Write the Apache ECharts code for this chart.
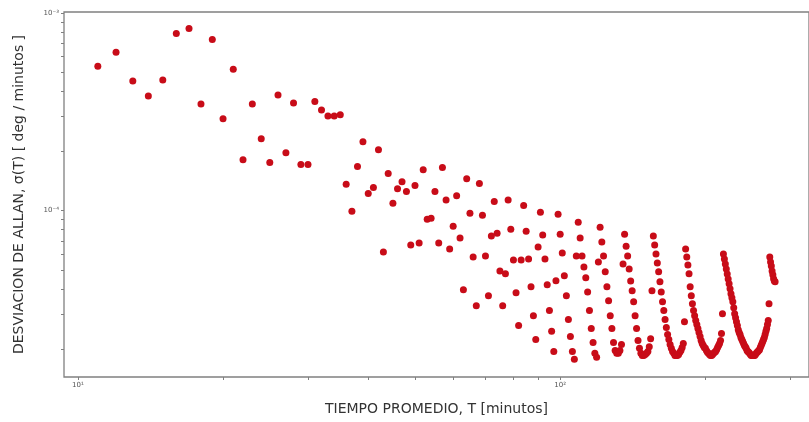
<!DOCTYPE html>
<html>
<head>
<meta charset="utf-8">
<script src="https://cdn.jsdelivr.net/npm/echarts@6/dist/echarts.min.js"></script>
<style>
html,body{margin:0;padding:0;background:#fff;}
#chart{width:809px;height:422px;}
</style>
</head>
<body>
<div id="chart"></div>
<script>
// Averaging time T [minutes]
const tau = [
 11,12,13,14,15,16,17,18,19,20,21,22,23,24,25,26,27,28,29,30,
 31,32,33,34,35,36,37,38,39,40,41,42,43,44,45,46,47,48,49,50,
 51,52,53,54,55,56,57,58,59,60,61,62,63,64,65,66,67,68,69,70,
 71,72,73,74,75,76,77,78,79,80,81,82,83,84,85,86,87,88,89,90,
 91,92,93,94,95,96,97,98,99,100,101,102,103,104,105,106,107,108,109,110,
 111,112,113,114,115,116,117,118,119,120,121,122,123,124,125,126,127,128,129,130,
 131,132,133,134,135,136,137,138,139,140,141,142,143,144,145,146,147,148,149,150,
 151,152,153,154,155,156,157,158,159,160,161,162,163,164,165,166,167,168,169,170,
 171,172,173,174,175,176,177,178,179,180,181,182,183,184,185,186,187,188,189,190,
 191,192,193,194,195,196,197,198,199,200,201,202,203,204,205,206,207,208,209,210,
 211,212,213,214,215,216,217,218,219,220,221,222,223,224,225,226,227,228,229,230,
 231,232,233,234,235,236,237,238,239,240,241,242,243,244,245,246,247,248,249,250,
 251,252,253,254,255,256,257,258,259,260,261,262,263,264,265,266,267,268,269,270,
 271,272,273,274,275,276,277,278,279
];
// Allan deviation, in units of 1e-5 deg/min
const sigmaE5 = [
 53.7,63.2,45.2,38.0,45.7,78.7,83.4,34.6,73.4,29.1,51.9,18.1,34.6,23.1,17.5,38.4,19.6,35.0,17.1,17.1,
 35.6,32.3,30.1,30.1,30.5,13.6,9.92,16.7,22.3,12.2,13.1,20.3,6.17,15.4,10.9,12.9,14.0,12.5,6.70,13.4,
 6.85,16.1,9.04,9.15,12.5,6.85,16.5,11.3,6.39,8.34,11.9,7.26,3.98,14.5,9.69,5.83,3.30,13.7,9.47,5.89,
 3.71,7.43,11.1,7.69,4.95,3.30,4.79,11.3,8.05,5.63,3.84,2.62,5.63,10.6,7.87,5.69,4.12,2.94,2.23,6.55,
 9.80,7.52,5.69,4.21,3.12,2.45,1.94,4.42,9.58,7.60,6.10,4.68,3.71,2.81,2.31,1.94,1.77,5.89,8.73,7.26,
 5.89,5.19,4.57,3.88,3.12,2.53,2.15,1.90,1.81,5.50,8.24,6.93,5.89,4.90,4.12,3.50,2.94,2.53,2.15,1.96,
 1.90,1.90,1.96,2.10,5.37,7.60,6.61,5.89,5.07,4.41,3.93,3.46,2.94,2.53,2.20,2.01,1.90,1.85,1.85,1.87,
 1.90,1.94,2.05,2.25,3.93,7.43,6.69,6.03,5.43,4.90,4.36,3.88,3.46,3.12,2.81,2.56,2.36,2.23,2.10,2.01,
 1.94,1.90,1.85,1.85,1.85,1.87,1.92,1.96,2.03,2.13,2.74,6.39,5.82,5.31,4.79,4.12,3.71,3.38,3.12,2.94,
 2.78,2.65,2.53,2.42,2.31,2.20,2.13,2.08,2.03,2.01,1.96,1.92,1.90,1.87,1.85,1.85,1.87,1.90,1.92,1.94,
 1.98,2.03,2.08,2.13,2.20,2.39,3.01,6.03,5.69,5.37,5.07,4.78,4.51,4.26,4.02,3.80,3.62,3.46,3.23,3.01,
 2.87,2.74,2.62,2.50,2.42,2.36,2.28,2.23,2.18,2.13,2.08,2.05,2.01,1.96,1.94,1.92,1.90,1.87,1.85,1.85,
 1.85,1.85,1.85,1.87,1.90,1.92,1.94,1.96,1.98,2.03,2.08,2.13,2.18,2.23,2.28,2.36,2.45,2.53,2.65,2.78,
 3.38,5.82,5.50,5.25,4.95,4.73,4.52,4.41,4.36
];
// Tick positions and labels
const xLabelValues = [10, 100];
const xTickValues = [10,20,30,40,50,60,70,80,90,100,200,300];
const yLabelValues = [1e-4, 1e-3];
const yTickValues = [2e-5,3e-5,4e-5,5e-5,6e-5,7e-5,8e-5,9e-5,1e-4,2e-4,3e-4,4e-4,5e-4,6e-4,7e-4,8e-4,9e-4,1e-3];

const sup = {'-':'\u207B','0':'\u2070','1':'\u00B9','2':'\u00B2','3':'\u00B3','4':'\u2074','5':'\u2075','6':'\u2076','7':'\u2077','8':'\u2078','9':'\u2079'};
function powLabel(v){
  const e = Math.round(Math.log10(v));
  if (Math.abs(Math.log10(v) - e) > 1e-6) return '';
  return '10' + String(e).split('').map(c => sup[c]).join('');
}

const data = tau.map((t, i) => [t, sigmaE5[i] * 1e-5]);

const chart = echarts.init(document.getElementById('chart'), null, {renderer: 'canvas'});
const axisColor = '#808080';
chart.setOption({
  animation: false,
  backgroundColor: '#ffffff',
  grid: {left: 64, right: -6, top: 12, bottom: 45, show: true, borderColor: axisColor, borderWidth: 1.3, backgroundColor: 'transparent'},
  xAxis: {
    type: 'log', logBase: 10, min: 9.36, max: 328,
    name: 'TIEMPO PROMEDIO, T [minutos]', nameLocation: 'middle', nameGap: 25,
    nameTextStyle: {fontFamily: 'DejaVu Sans', fontSize: 14, color: '#333'},
    axisLine: {show: false},
    splitLine: {show: false},
    axisTick: {show: true, length: 3, lineStyle: {color: axisColor}, customValues: xTickValues},
    axisLabel: {customValues: xLabelValues, formatter: powLabel, fontFamily: 'DejaVu Sans', fontSize: 7, color: '#555', margin: 5}
  },
  yAxis: {
    type: 'log', logBase: 10, min: 1.44e-5, max: 1.01e-3,
    name: 'DESVIACION DE ALLAN, \u03C3(T) [ deg / minutos ]', nameLocation: 'middle', nameGap: 38,
    nameTextStyle: {fontFamily: 'DejaVu Sans', fontSize: 14, color: '#333'},
    axisLine: {show: false},
    splitLine: {show: false},
    axisTick: {show: true, length: 3, lineStyle: {color: axisColor}, customValues: yTickValues},
    axisLabel: {customValues: yLabelValues, formatter: powLabel, fontFamily: 'DejaVu Sans', fontSize: 7, color: '#555', margin: 5}
  },
  series: [{
    type: 'scatter',
    data: data,
    symbol: 'circle',
    symbolSize: 7,
    itemStyle: {color: '#c80c18', opacity: 1},
    emphasis: {disabled: true}
  }]
});
</script>
</body>
</html>
